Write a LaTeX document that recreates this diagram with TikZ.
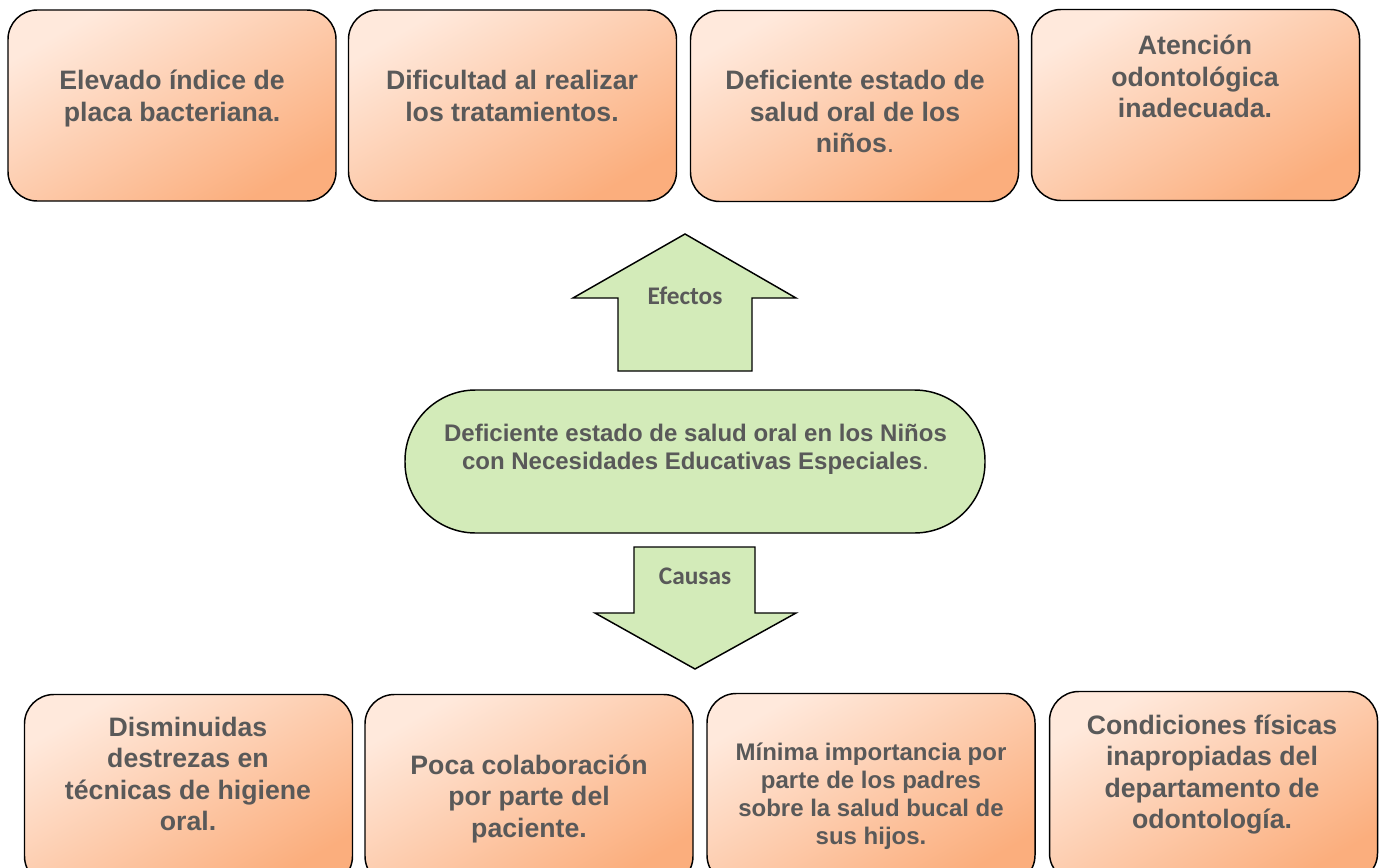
\documentclass[tikz,border=0pt]{standalone}
\usepackage{fontspec}
\setmainfont{Liberation Sans}
\newfontfamily\calfont{Carlito}
\definecolor{txt}{HTML}{595959}
\definecolor{orL}{HTML}{FFE9DC}
\definecolor{orD}{HTML}{FBAE7D}
\definecolor{grn}{HTML}{D3EBB9}
\begin{document}
\begin{tikzpicture}[x=0.75pt,y=-0.75pt,
  box/.style={draw=black, line width=1.1pt, rounded corners=22pt, shade,
    top color=orL, bottom color=orD, shading angle=30,
    minimum width=246pt, minimum height=143.25pt, inner sep=0pt},
  bigtxt/.style={text=txt, font=\fontsize{20}{23.6}\selectfont\bfseries, align=center, inner sep=0pt},
  smalltxt/.style={text=txt, font=\fontsize{18}{21}\selectfont\bfseries, align=center, inner sep=0pt},
  arrowlbl/.style={text=txt, font=\calfont\fontsize{19}{22}\selectfont\bfseries, inner sep=0pt},
  arrowshape/.style={draw=black, line width=1.1pt, fill=grn, line join=miter},
  midbox/.style={draw=black, line width=1.1pt, fill=grn, rounded corners=53pt,
    minimum width=435pt, minimum height=107.25pt, inner sep=0pt}
]
\useasboundingbox (0,0) rectangle (1387,867);
\clip (0,0) rectangle (1387,867);
\fill[white] (0,0) rectangle (1387,867);

% top boxes (effects)
\node[box] (e1) at (172,105.5) {};
\node[box] (e2) at (512.5,105.5) {};
\node[box] (e3) at (854.5,106) {};
\node[box] (e4) at (1195.5,105) {};
\node[bigtxt] (te1) at (172,98.7) {Elevado índice de\\placa bacteriana.};
\node[bigtxt] (te2) at (512,96) {Dificultad al realizar\\los tratamientos.};
\node[bigtxt] (te3) at (855,111.5) {Deficiente estado de\\salud oral de los\\niños{\mdseries .}};
\node[bigtxt] (te4) at (1195,76.5) {Atención\\odontológica\\inadecuada.};

% effects arrow
\coordinate (up1) at (685,234);
\coordinate (up2) at (796,298);
\coordinate (up3) at (752,298);
\coordinate (up4) at (752,371);
\coordinate (up5) at (618,371);
\coordinate (up6) at (618,298);
\coordinate (up7) at (573,298);
\draw[arrowshape] (up1) -- (up2) -- (up3) -- (up4) -- (up5) -- (up6) -- (up7) -- cycle;
\node[arrowlbl] (lefe) at (685,296) {Efectos};

% central problem
\node[midbox] (mid) at (695,461.5) {};
\node[smalltxt] (tmid) at (695.5,449.4) {Deficiente estado de salud oral en los Niños\\con Necesidades Educativas Especiales{\mdseries .}};

% causes arrow
\coordinate (dn1) at (634,547);
\coordinate (dn2) at (755,547);
\coordinate (dn3) at (755,613);
\coordinate (dn4) at (796,613);
\coordinate (dn5) at (695,669);
\coordinate (dn6) at (595,613);
\coordinate (dn7) at (634,613);
\draw[arrowshape] (dn1) -- (dn2) -- (dn3) -- (dn4) -- (dn5) -- (dn6) -- (dn7) -- cycle;
\node[arrowlbl] (lcau) at (695,576) {Causas};

% bottom boxes (causes)
\node[box] (c1) at (188.5,790) {};
\node[box] (c2) at (529,790) {};
\node[box] (c3) at (871,789) {};
\node[box] (c4) at (1213.5,787) {};
\node[bigtxt] (tc1) at (188,774) {Disminuidas\\destrezas en\\técnicas de higiene\\oral.};
\node[bigtxt] (tc2) at (529,798.7) {Poca colaboración\\por parte del\\paciente.};
\node[smalltxt] (tc3) at (871,796.4) {Mínima importancia por\\parte de los padres\\sobre la salud bucal de\\sus hijos.};
\node[bigtxt] (tc4) at (1212,774.7) {Condiciones físicas\\inapropiadas del\\departamento de\\odontología.};
\end{tikzpicture}
\end{document}
